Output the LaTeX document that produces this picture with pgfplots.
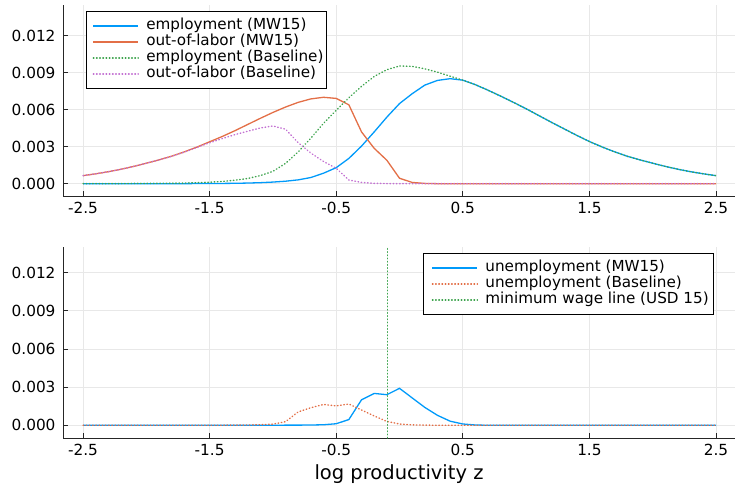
\documentclass[border=0pt]{standalone}
\usepackage{fontspec}
\setmainfont{DejaVu Sans}
\usepackage{pgfplots}
\usepackage{pgfplotstable}
\pgfplotsset{compat=1.18}

\definecolor{jblue}{RGB}{0,154,250}
\definecolor{jorange}{RGB}{227,111,71}
\definecolor{jgreen}{RGB}{62,164,78}
\definecolor{jpurple}{RGB}{195,113,210}

% z, employment (MW15), out-of-labor (MW15), employment (Baseline), out-of-labor (Baseline)
\pgfplotstableread{
z     empMW    oolMW    empBL    oolBL
-2.5  0.00000  0.00065  0.00001  0.00065
-2.4  0.00000  0.00080  0.00001  0.00080
-2.3  0.00000  0.00097  0.00001  0.00097
-2.2  0.00000  0.00117  0.00001  0.00117
-2.1  0.00000  0.00140  0.00002  0.00140
-2.0  0.00000  0.00166  0.00002  0.00166
-1.9  0.00000  0.00193  0.00003  0.00193
-1.8  0.00000  0.00223  0.00004  0.00222
-1.7  0.00000  0.00258  0.00005  0.00256
-1.6  0.00001  0.00297  0.00008  0.00294
-1.5  0.00001  0.00340  0.00012  0.00332
-1.4  0.00002  0.00383  0.00018  0.00366
-1.3  0.00003  0.00430  0.00028  0.00398
-1.2  0.00005  0.00480  0.00042  0.00425
-1.1  0.00008  0.00530  0.00065  0.00452
-1.0  0.00013  0.00578  0.00100  0.00468
-0.9  0.00020  0.00622  0.00165  0.00442
-0.8  0.00031  0.00660  0.00258  0.00332
-0.7  0.00050  0.00688  0.00370  0.00248
-0.6  0.00085  0.00701  0.00490  0.00180
-0.5  0.00130  0.00692  0.00595  0.00125
-0.4  0.00205  0.00640  0.00697  0.00030
-0.3  0.00305  0.00420  0.00790  0.00010
-0.2  0.00420  0.00287  0.00870  0.00003
-0.1  0.00540  0.00190  0.00925  0.00001
 0.0  0.00650  0.00044  0.00955  0.00000
 0.1  0.00730  0.00010  0.00952  0.00000
 0.2  0.00800  0.00002  0.00932  0.00000
 0.3  0.00838  0.00000  0.00905  0.00000
 0.4  0.00852  0.00000  0.00872  0.00000
 0.5  0.00840  0.00000  0.00840  0.00000
 0.6  0.00803  0.00000  0.00803  0.00000
 0.7  0.00758  0.00000  0.00758  0.00000
 0.8  0.00710  0.00000  0.00710  0.00000
 0.9  0.00660  0.00000  0.00660  0.00000
 1.0  0.00608  0.00000  0.00608  0.00000
 1.1  0.00553  0.00000  0.00553  0.00000
 1.2  0.00498  0.00000  0.00498  0.00000
 1.3  0.00445  0.00000  0.00445  0.00000
 1.4  0.00392  0.00000  0.00392  0.00000
 1.5  0.00342  0.00000  0.00342  0.00000
 1.6  0.00298  0.00000  0.00298  0.00000
 1.7  0.00258  0.00000  0.00258  0.00000
 1.8  0.00222  0.00000  0.00222  0.00000
 1.9  0.00193  0.00000  0.00193  0.00000
 2.0  0.00166  0.00000  0.00166  0.00000
 2.1  0.00140  0.00000  0.00140  0.00000
 2.2  0.00117  0.00000  0.00117  0.00000
 2.3  0.00097  0.00000  0.00097  0.00000
 2.4  0.00080  0.00000  0.00080  0.00000
 2.5  0.00065  0.00000  0.00065  0.00000
}\shares

% z, unemployment (MW15), unemployment (Baseline)
\pgfplotstableread{
z     unMW     unBL
-2.5  0.00000  0.00000
-2.0  0.00000  0.00000
-1.5  0.00000  0.00000
-1.3  0.00000  0.00001
-1.2  0.00000  0.00002
-1.1  0.00000  0.00004
-1.0  0.00000  0.00009
-0.9  0.00001  0.00028
-0.8  0.00001  0.00105
-0.7  0.00002  0.00138
-0.6  0.00004  0.00163
-0.5  0.00012  0.00152
-0.4  0.00045  0.00167
-0.3  0.00200  0.00120
-0.2  0.00250  0.00073
-0.1  0.00240  0.00030
 0.0  0.00290  0.00010
 0.1  0.00215  0.00003
 0.2  0.00140  0.00001
 0.3  0.00078  0.00000
 0.4  0.00032  0.00000
 0.5  0.00010  0.00000
 0.6  0.00002  0.00000
 0.7  0.00000  0.00000
 1.0  0.00000  0.00000
 1.5  0.00000  0.00000
 2.0  0.00000  0.00000
 2.5  0.00000  0.00000
}\unemp

\newcommand{\tickfont}{\fontsize{15.3bp}{18bp}\selectfont}
\newcommand{\legfont}{\fontsize{15.2bp}{18bp}\selectfont}

\pgfplotsset{
  panel/.style={
    scale only axis,
    width=672bp, height=191bp,
    xmin=-2.658, xmax=2.65,
    axis x line=bottom, axis y line=left,
    axis line style={-, line width=0.9bp, black!85},
    tick align=inside,
    major tick length=5bp,
    tick style={black!85, line width=0.7bp},
    xtick={-2.5,-1.5,-0.5,0.5,1.5,2.5},
    xticklabels={-2.5,-1.5,-0.5,0.5,1.5,2.5},
    ytick={0,0.003,0.006,0.009,0.012},
    yticklabels={0.000,0.003,0.006,0.009,0.012},
    scaled y ticks=false,
    ticklabel style={font=\tickfont},
    xticklabel style={yshift=-3bp},
    yticklabel style={xshift=-4bp},
    grid=major,
    major grid style={black!9, line width=0.7bp},
    clip=false,
    legend cell align=left,
    legend style={font=\legfont, draw=black, line width=0.9bp,
      inner xsep=3bp, inner ysep=6.5bp, row sep=0bp,
      nodes={inner xsep=0bp, inner ysep=0bp, text height=11.5bp, text depth=4.5bp}},
    % sample line with blank room on both sides of it
    legend image code/.code={%
      \path[draw=none, fill=none] (0bp,0bp) -- (57bp,0bp);
      \draw[#1] (4bp,0bp) -- (49bp,0bp);},
  },
  solidline/.style={line width=1.3bp},
  dotline/.style={line width=1.4bp, line cap=round, dash pattern=on 0.6bp off 2.6bp},
}

\begin{document}
\begin{tikzpicture}
\path[use as bounding box] (0bp,0bp) rectangle (735bp,492bp);

% employment and out-of-labor densities
\begin{axis}[panel, at={(63bp,296bp)}, anchor=south west,
  ymin=-0.001, ymax=0.0145,
  legend style={at={(0.034,0.969)}, anchor=north west}]
\addplot[jblue, solidline] table[x=z, y=empMW] {\shares};
\addlegendentry{employment (MW15)}
\addplot[jorange, solidline] table[x=z, y=oolMW] {\shares};
\addlegendentry{out-of-labor (MW15)}
\addplot[jgreen, dotline] table[x=z, y=empBL] {\shares};
\addlegendentry{employment (Baseline)}
\addplot[jpurple, dotline] table[x=z, y=oolBL] {\shares};
\addlegendentry{out-of-labor (Baseline)}
\end{axis}

% unemployment densities
\begin{axis}[panel, at={(63bp,54bp)}, anchor=south west,
  ymin=-0.001, ymax=0.014,
  xlabel={log productivity z},
  xlabel style={font=\fontsize{19.5bp}{22bp}\selectfont, yshift=-2bp},
  legend style={at={(0.969,0.969)}, anchor=north east, inner xsep=5bp}]
\addplot[jblue, solidline] table[x=z, y=unMW] {\unemp};
\addlegendentry{unemployment (MW15)}
\addplot[jorange, dotline] table[x=z, y=unBL] {\unemp};
\addlegendentry{unemployment (Baseline)}
\addplot[jgreen, dotline] coordinates {(-0.096,-0.001) (-0.096,0.014)};
\addlegendentry{minimum wage line (USD 15)}
\end{axis}
\end{tikzpicture}
\end{document}
